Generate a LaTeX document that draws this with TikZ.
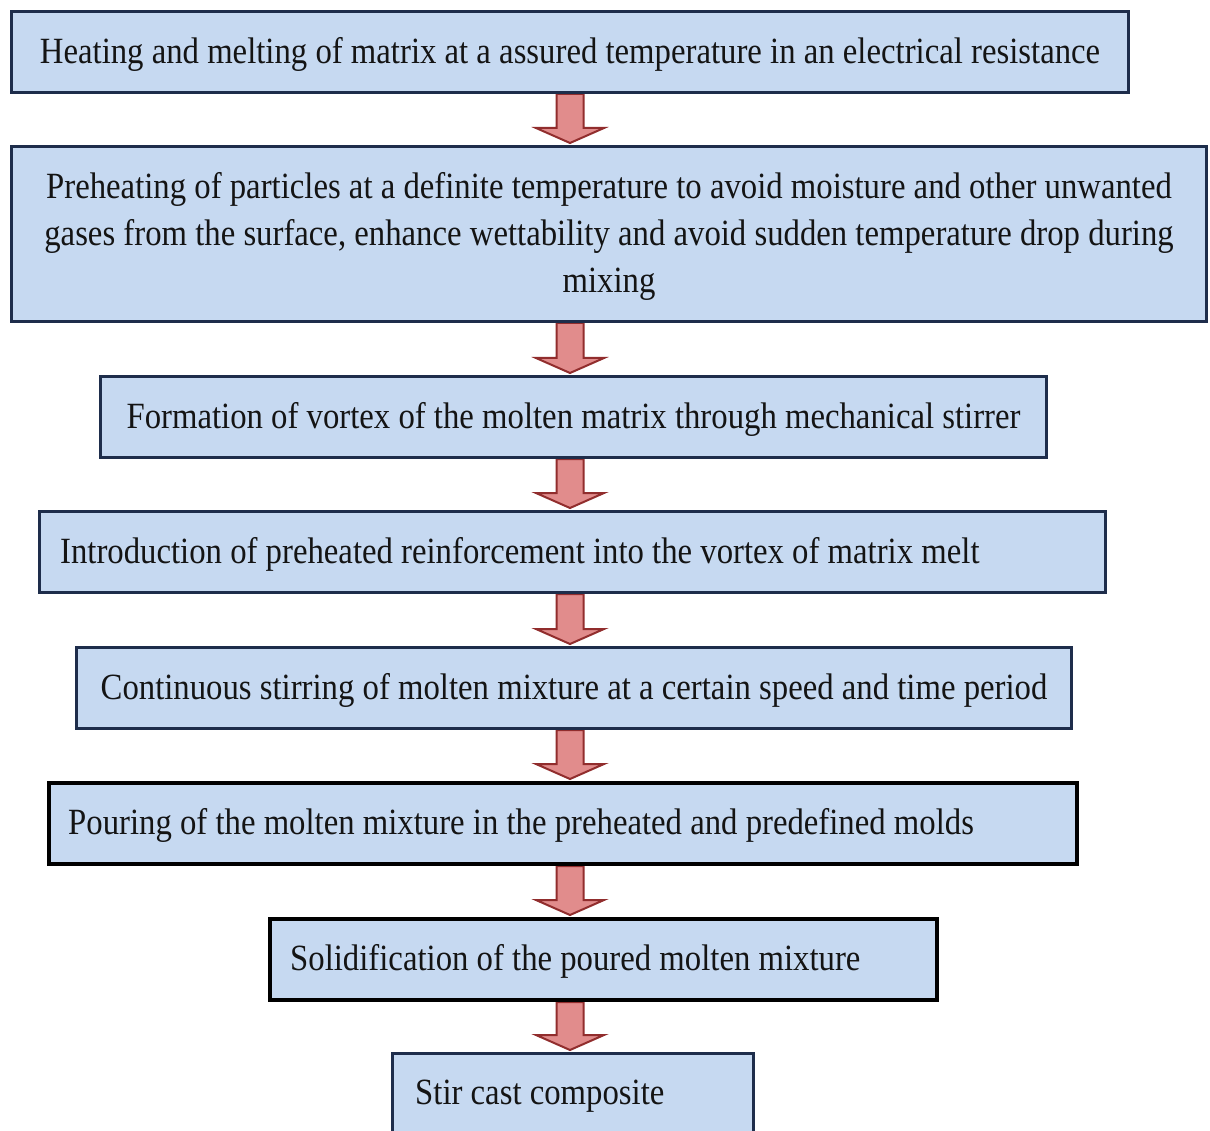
\documentclass[tikz,border=0pt]{standalone}
\usepackage{fontspec}
\setmainfont{Liberation Serif}[FakeStretch=0.885]
\usetikzlibrary{calc,backgrounds}
\definecolor{boxfill}{RGB}{198,217,241}
\definecolor{boxline}{RGB}{30,45,75}
\definecolor{arrfill}{RGB}{225,140,140}
\definecolor{arrline}{RGB}{145,45,45}
\definecolor{txtcol}{RGB}{20,20,20}
\tikzset{
  box/.style={draw=boxline, line width=3pt, fill=boxfill, inner sep=0pt, anchor=north west},
  blackbox/.style={box, draw=black, line width=4pt},
  txt/.style={inner sep=0pt, text=txtcol, font=\fontsize{37}{47}\selectfont, yshift=-2pt},
  arrowst/.style={fill=arrfill, draw=arrline, line width=2pt, line join=miter}
}
\begin{document}
\begin{tikzpicture}[x=1pt,y=-1pt]
\clip (0,0) rectangle (1210,1131);
\coordinate (ax) at (570,0);
% boxes
\node[box, minimum width=1117pt, minimum height=81pt] (b1) at (10,10) {};
\node[box, minimum width=1195pt, minimum height=175pt] (b2) at (10,145) {};
\node[box, minimum width=946pt, minimum height=81pt] (b3) at (99,375) {};
\node[box, minimum width=1066pt, minimum height=81pt] (b4) at (38,510) {};
\node[box, minimum width=995pt, minimum height=81pt] (b5) at (75,646) {};
\node[blackbox, minimum width=1028pt, minimum height=81pt] (b6) at (47,781) {};
\node[blackbox, minimum width=667pt, minimum height=81pt] (b7) at (268,917) {};
\node[box, minimum width=361pt, minimum height=95pt] (b8) at (391,1052) {};
% arrows
\begin{scope}[on background layer]
\fill[white] (0,0) rectangle (1210,1131);
\foreach \a/\b in {b1/b2,b2/b3,b3/b4,b4/b5,b5/b6,b6/b7,b7/b8}{
  \filldraw[arrowst] let \p1=(\a.south -| ax), \p2=(\b.north -| ax) in
    (\x1-13.5pt,\y1) -- (\x1+13.5pt,\y1) -- (\x1+13.5pt,\y2+17pt) -- (\x1+34pt,\y2+17pt)
    -- (\x1,\y2+2pt) -- (\x1-34pt,\y2+17pt) -- (\x1-13.5pt,\y2+17pt) -- cycle;
}
\end{scope}
% texts
\node[txt] (t1) at (b1.center) {Heating and melting of matrix at a assured temperature in an electrical resistance};
\node[txt, align=center] (t2) at (b2.center) {Preheating of particles at a definite temperature to avoid moisture and other unwanted\\gases from the surface, enhance wettability and avoid sudden temperature drop during\\mixing};
\node[txt] (t3) at (b3.center) {Formation of vortex of the molten matrix through mechanical stirrer};
\node[txt, anchor=west] (t4) at ([xshift=22pt]b4.west) {Introduction of preheated reinforcement into the vortex of matrix melt};
\node[txt] (t5) at (b5.center) {Continuous stirring of molten mixture at a certain speed and time period};
\node[txt, anchor=west] (t6) at ([xshift=21pt]b6.west) {Pouring of the molten mixture in the preheated and predefined molds};
\node[txt, anchor=west] (t7) at ([xshift=22pt]b7.west) {Solidification of the poured molten mixture};
\node[txt, anchor=west] (t8) at ([xshift=24pt]b8.north west |- 0,1094) {Stir cast composite};
\end{tikzpicture}
\end{document}
